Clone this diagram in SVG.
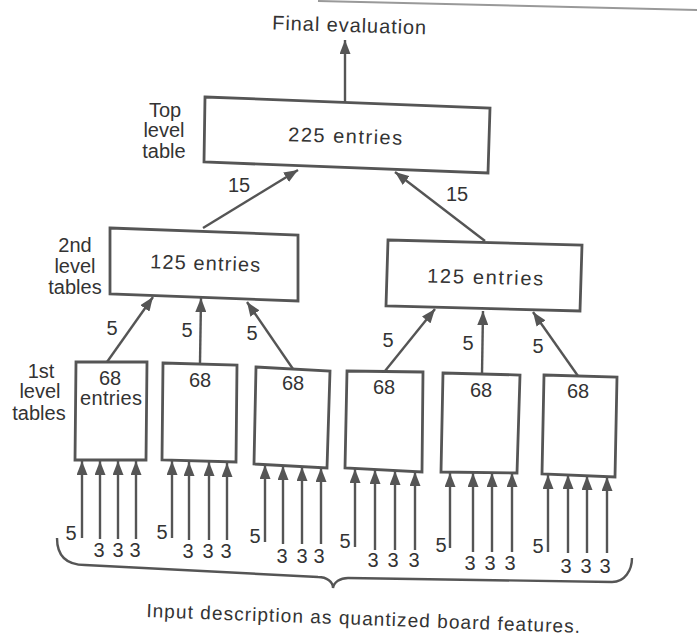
<svg xmlns="http://www.w3.org/2000/svg" width="697" height="641" viewBox="0 0 697 641">
<style>
text{font-family:"Liberation Sans",Arial,sans-serif;fill:#333}
.t{font-size:20px;text-anchor:middle}
.s{font-size:20px;text-anchor:middle}
.n{font-size:20px;text-anchor:middle}
.box{fill:#fff;stroke:#555;stroke-width:2.8;stroke-linejoin:miter}
.c line{stroke:#555;stroke-width:2.4}
</style>
<defs>
<marker id="ah" markerUnits="userSpaceOnUse" markerWidth="15" markerHeight="11" refX="14" refY="5.5" orient="auto">
<path d="M0,0 L14,5.5 L0,11 z" fill="#555"/>
</marker>
</defs>
<rect width="697" height="641" fill="#fff"/>
<line x1="318" y1="1" x2="697" y2="10" stroke="#999" stroke-width="2"/>

<text class="t" x="349" y="32" textLength="154" transform="rotate(1.8 349 32)">Final evaluation</text>

<g id="labels">
<text class="s" x="165" y="117">Top</text>
<text class="s" x="164" y="137">level</text>
<text class="s" x="164" y="158">table</text>
<text class="s" x="75" y="252">2nd</text>
<text class="s" x="75" y="273">level</text>
<text class="s" x="75" y="294">tables</text>
<text class="s" x="41" y="378">1st</text>
<text class="s" x="40" y="398">level</text>
<text class="s" x="39" y="420">tables</text>
</g>

<g id="top">
<polygon class="box" points="205,97 490,108 488,173 204,162"/>
<text class="t" x="345" y="143" textLength="114" transform="rotate(1.8 345 143)">225 entries</text>
</g>
<g id="mid-left">
<polygon class="box" points="110,228 298,235 298,301 110,294"/>
<text class="t" x="205" y="270" textLength="110" transform="rotate(1.8 205 270)">125 entries</text>
</g>
<g id="mid-right">
<polygon class="box" points="388,240 582,245 580,311 386,306"/>
<text class="t" x="485" y="284" textLength="116" transform="rotate(1.5 485 284)">125 entries</text>
</g>
<g id="t1">
<polygon class="box" points="76,362 147,362 146,460 75,460"/>
<text class="t" x="110" y="385">68</text>
<text class="t" x="111" y="405" textLength="62">entries</text>
</g>
<g id="t2">
<polygon class="box" points="163,363 237,365 236,462 162,460"/>
<text class="t" x="200" y="387">68</text>
</g>
<g id="t3">
<polygon class="box" points="256,367 330,371 327,468 254,464"/>
<text class="t" x="293" y="390">68</text>
</g>
<g id="t4">
<polygon class="box" points="347,371 423,372 422,472 345,468"/>
<text class="t" x="384" y="394">68</text>
</g>
<g id="t5">
<polygon class="box" points="443,373 520,375 517,473 441,472"/>
<text class="t" x="481" y="397">68</text>
</g>
<g id="t6">
<polygon class="box" points="544,375 617,377 615,477 542,474"/>
<text class="t" x="578" y="398">68</text>
</g>

<g id="connectors" class="c">
<line x1="345" y1="102" x2="345" y2="40" marker-end="url(#ah)"/>
<line x1="203" y1="228" x2="298" y2="170" marker-end="url(#ah)"/>
<line x1="485" y1="241" x2="395" y2="172" marker-end="url(#ah)"/>
<line x1="107" y1="362" x2="153" y2="297" marker-end="url(#ah)"/>
<line x1="200" y1="363" x2="201" y2="298" marker-end="url(#ah)"/>
<line x1="293" y1="369" x2="247" y2="302" marker-end="url(#ah)"/>
<line x1="385" y1="371" x2="435" y2="309" marker-end="url(#ah)"/>
<line x1="482" y1="374" x2="483" y2="311" marker-end="url(#ah)"/>
<line x1="578" y1="376" x2="533" y2="312" marker-end="url(#ah)"/>

<line x1="82" y1="538" x2="82" y2="461" marker-end="url(#ah)"/>
<line x1="100" y1="539" x2="100" y2="461" marker-end="url(#ah)"/>
<line x1="118" y1="539" x2="118" y2="461" marker-end="url(#ah)"/>
<line x1="136" y1="539" x2="136" y2="461" marker-end="url(#ah)"/>

<line x1="172" y1="538" x2="172" y2="461" marker-end="url(#ah)"/>
<line x1="189" y1="540" x2="189" y2="462" marker-end="url(#ah)"/>
<line x1="209" y1="540" x2="209" y2="462" marker-end="url(#ah)"/>
<line x1="227" y1="540" x2="227" y2="463" marker-end="url(#ah)"/>

<line x1="265" y1="542" x2="265" y2="465" marker-end="url(#ah)"/>
<line x1="283" y1="544" x2="283" y2="466" marker-end="url(#ah)"/>
<line x1="302" y1="544" x2="302" y2="467" marker-end="url(#ah)"/>
<line x1="321" y1="544" x2="321" y2="468" marker-end="url(#ah)"/>

<line x1="355" y1="547" x2="355" y2="469" marker-end="url(#ah)"/>
<line x1="375" y1="550" x2="375" y2="470" marker-end="url(#ah)"/>
<line x1="395" y1="550" x2="395" y2="471" marker-end="url(#ah)"/>
<line x1="415" y1="550" x2="415" y2="472" marker-end="url(#ah)"/>

<line x1="450" y1="548" x2="450" y2="473" marker-end="url(#ah)"/>
<line x1="473" y1="552" x2="473" y2="473" marker-end="url(#ah)"/>
<line x1="492" y1="552" x2="492" y2="473" marker-end="url(#ah)"/>
<line x1="512" y1="552" x2="512" y2="473" marker-end="url(#ah)"/>

<line x1="548" y1="552" x2="548" y2="475" marker-end="url(#ah)"/>
<line x1="568" y1="553" x2="568" y2="475" marker-end="url(#ah)"/>
<line x1="587" y1="553" x2="587" y2="476" marker-end="url(#ah)"/>
<line x1="607" y1="553" x2="607" y2="477" marker-end="url(#ah)"/>
</g>

<g id="edge-labels">
<text class="n" x="239" y="192">15</text>
<text class="n" x="457" y="201">15</text>
<text class="n" x="112" y="335">5</text>
<text class="n" x="187" y="337">5</text>
<text class="n" x="252" y="340">5</text>
<text class="n" x="388" y="347">5</text>
<text class="n" x="468" y="350">5</text>
<text class="n" x="538" y="353">5</text>

<text class="n" x="71" y="540">5</text>
<text class="n" x="99" y="557">3</text>
<text class="n" x="118" y="557">3</text>
<text class="n" x="135" y="557">3</text>

<text class="n" x="162" y="539">5</text>
<text class="n" x="188" y="558">3</text>
<text class="n" x="208" y="558">3</text>
<text class="n" x="226" y="558">3</text>

<text class="n" x="255" y="543">5</text>
<text class="n" x="282" y="563">3</text>
<text class="n" x="302" y="563">3</text>
<text class="n" x="319" y="563">3</text>

<text class="n" x="345" y="548">5</text>
<text class="n" x="373" y="567">3</text>
<text class="n" x="393" y="567">3</text>
<text class="n" x="414" y="567">3</text>

<text class="n" x="441" y="552">5</text>
<text class="n" x="470" y="570">3</text>
<text class="n" x="490" y="570">3</text>
<text class="n" x="510" y="570">3</text>

<text class="n" x="538" y="553">5</text>
<text class="n" x="566" y="573">3</text>
<text class="n" x="586" y="573">3</text>
<text class="n" x="605" y="573">3</text>
</g>

<path id="brace" d="M57,538 C57,558 68,565 85,565 L318,577 C327,577 333,582 333,588 C334,582 340,578 348,578 L612,582 C625,582 632,570 632,558" fill="none" stroke="#555" stroke-width="2.4"/>

<text x="363" y="625" font-size="19" text-anchor="middle" textLength="434" transform="rotate(2.1 363 625)">Input description as quantized board features.</text>
</svg>
